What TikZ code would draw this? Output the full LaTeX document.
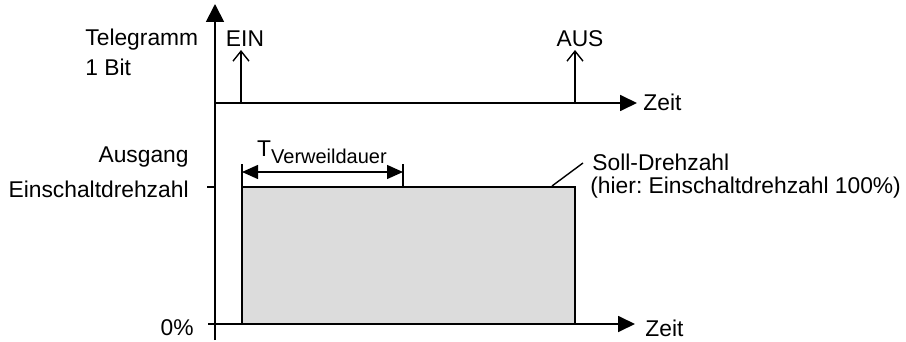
\documentclass[tikz,border=0pt]{standalone}
\usepackage{fontspec}
\setmainfont{Liberation Sans}
\usetikzlibrary{arrows.meta}
\definecolor{boxgray}{RGB}{220,220,220}
\frenchspacing

\begin{document}
\begin{tikzpicture}[x=0.5pt, y=-0.5pt, font=\fontsize{11.4}{13}\selectfont, inner sep=0pt,
  axis/.style={line width=0.9pt, -{Triangle[length=8.5pt, width=8pt]}},
  pulse/.style={line width=0.7pt, -{Straight Barb[length=5pt, width=8pt]}},
  dimline/.style={line width=0.7pt, {Triangle[length=8pt, width=7pt]}-{Triangle[length=8pt, width=7pt]}}]
\useasboundingbox (0,0) rectangle (906,342);
% axes and corner points
\coordinate (O) at (215,340); \coordinate (Top) at (215,4);
\coordinate (T0) at (215,103); \coordinate (T1) at (637,103);
\coordinate (A0) at (208,324); \coordinate (A1) at (635,324);
\coordinate (S0) at (207,187); \coordinate (S1) at (215,187);
\coordinate (R0) at (242,324); \coordinate (R1) at (575,187);
% output block
\draw[line width=0.7pt, fill=boxgray] (R0) rectangle (R1);
\draw[axis, -{Triangle[length=9pt, width=9pt]}] (O) -- (Top); \draw[axis] (T0) -- (T1); \draw[axis] (A0) -- (A1); \draw[line width=0.9pt] (S0) -- (S1);
% telegrams
\coordinate (ein0) at (241,103); \coordinate (ein1) at (241,50); \draw[pulse] (ein0) -- (ein1);
\coordinate (aus0) at (575,103); \coordinate (aus1) at (575,50); \draw[pulse] (aus0) -- (aus1);
\node (ein) at (245,39) {EIN}; \node (aus) at (580,39) {AUS};
% dwell time
\coordinate (D0) at (242,164); \coordinate (D1) at (403,164); \coordinate (D2) at (403,187);
\draw[line width=0.7pt] (242,187) -- (D0); \draw[line width=0.7pt] (D2) -- (D1);
\draw[dimline] (242,172) -- (403,172);
\node (tdwell) at (322,152) {T\raisebox{-0.55ex}{\fontsize{10}{11}\selectfont Verweildauer}};
% labels
\node[anchor=west] (tele) at (85,40) {Telegramm}; \node[anchor=west] (bit) at (85,67) {1 Bit};
\node[anchor=east] (ausg) at (189,157) {Ausgang}; \node[anchor=east] (esd) at (189,189) {Einschaltdrehzahl};
\node[anchor=east] (null) at (194,328) {0\%};
\node[anchor=west] (zeit1) at (643,102) {Zeit}; \node[anchor=west] (zeit2) at (645,328) {Zeit};
\node[anchor=west] (soll) at (592,162) {Soll-Drehzahl};
\node[anchor=west] (hier) at (590,188) {(hier: Einschaltdrehzahl 100\%)};
\coordinate (L0) at (552,186); \coordinate (L1) at (583,163); \draw[line width=0.7pt] (L0) -- (L1);
\end{tikzpicture}
\end{document}
